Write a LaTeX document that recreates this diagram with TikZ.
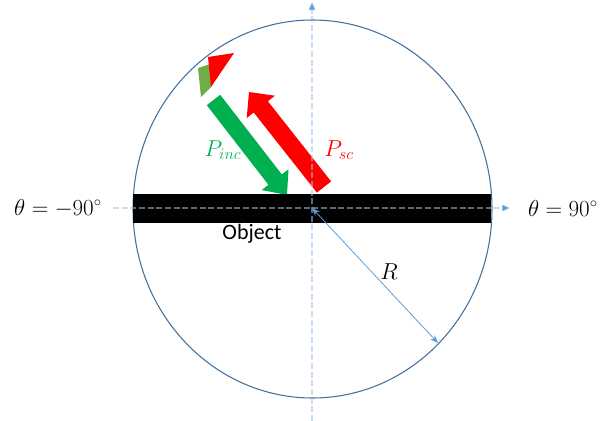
\documentclass[tikz,border=0pt]{standalone}
\usepackage{fontspec}
\newfontfamily\calib{Carlito}
\usetikzlibrary{arrows.meta}
\definecolor{axisblue}{HTML}{9DC3E6}
\definecolor{tipblue}{HTML}{5B9BD5}
\definecolor{circblue}{HTML}{41719C}
\definecolor{incgreen}{HTML}{00B050}
\definecolor{icongreen}{HTML}{70AD47}
\definecolor{scred}{HTML}{FF0000}
\tikzset{
  axisline/.style={draw=axisblue, line width=1.1pt, dash pattern=on 4.5pt off 2pt, draw opacity=0.55,
    -{Triangle[length=6pt,width=5pt,fill=tipblue,color=tipblue]}},
  lbl/.style={inner sep=0pt, font=\fontsize{16}{19}\selectfont},
  rarrow/.style={draw=tipblue, line width=0.6pt, {Stealth[length=6pt,width=4.5pt]}-{Stealth[length=6pt,width=4.5pt]}},
}
\begin{document}
\begin{tikzpicture}[x=0.75pt,y=-0.75pt]
\useasboundingbox (0,0) rectangle (604,421);
% circle
\draw[circblue, line width=0.8pt] (312.5,209) ellipse [x radius=179.5, y radius=189];
% icon
\fill[icongreen] (198,68) -- (210,64) -- (211,87) -- (201,97) -- cycle;
\fill[scred] (208,57) -- (234,53) -- (211,87) -- cycle;
% arrows
\fill[incgreen] (206.8,105.2) -- (220.2,94.8) -- (281.8,174.4) -- (288.5,169.2) -- (287,195) -- (261.7,190.0) -- (268.4,184.8) -- cycle;
\fill[scred] (316.9,192.6) -- (331.1,181.4) -- (267.9,101.3) -- (274.9,95.7) -- (249,92) -- (246.7,118.1) -- (253.7,112.5) -- cycle;
% object bar
\node[fill=black, minimum width=358*0.75pt, minimum height=29*0.75pt, inner sep=0pt, anchor=north west] (bar) at (133,194) {};
% axes
\coordinate (c) at (312,208);
\coordinate (vtop) at (312,2);
\coordinate (vbot) at (312,421);
\coordinate (hl) at (113,208);
\coordinate (hr) at (510,208);
\draw[axisline] (vbot) -- (vtop);
\draw[axisline] (hl) -- (hr);
% radius
\coordinate (rim) at (438,343);
\draw[rarrow] (c) -- (rim);
% labels
\node[lbl] (tl) at (58,208) {$\theta = -90^{\circ}$};
\node[lbl] (tr) at (563,208) {$\theta = 90^{\circ}$};
\node[lbl] (R) at (389,272) {$R$};
\node[lbl, font=\fontsize{17}{20}\selectfont, text=incgreen] (pinc) at (223,150) {$P_{inc}$};
\node[lbl, font=\fontsize{17}{20}\selectfont, text=scred] (psc) at (339,150) {$P_{sc}$};
\node[inner sep=0pt, font=\calib\fontsize{16.5}{19}\selectfont] (obj) at (252,234) {Object};
\end{tikzpicture}
\end{document}
